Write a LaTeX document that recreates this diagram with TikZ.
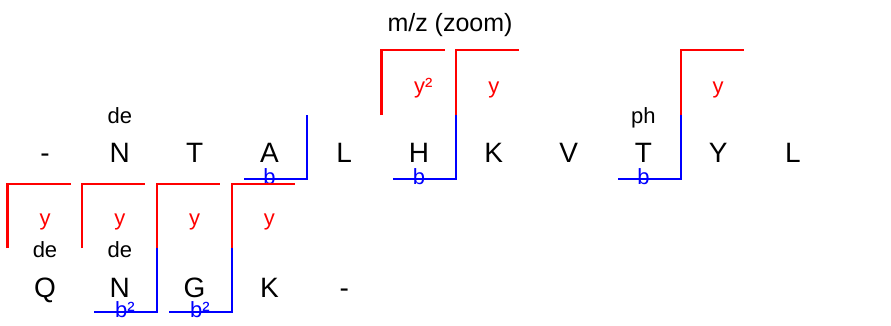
\documentclass[tikz,border=0pt]{standalone}
\usepackage{fontspec}
\setmainfont{Liberation Sans}
\usetikzlibrary{positioning}

\begin{document}
\begin{tikzpicture}[x=1pt, y=-1pt, line width=2.2pt,
  res/.style={font=\fontsize{28}{28}\selectfont, anchor=base, inner sep=0pt},
  tag/.style={font=\fontsize{22}{22}\selectfont, anchor=base, inner sep=0pt},
  yion/.style={red},
  bion/.style={blue}]
  % one unit = one pixel, y runs downwards
  \useasboundingbox (0,0) rectangle (891,325);
  \def\dx{74.8}   % residue pitch
  \def\rowa{162}  % baseline of first row
  \def\rowb{297}  % baseline of second row

  % Title
  \node[font=\fontsize{25}{25}\selectfont, anchor=base] (title) at (450, 31) {m/z (zoom)};

  % Residues
  \foreach \r [count=\i from 0] in {-,N,T,A,L,H,K,V,T,Y,L}
    \node[res] (a\i) at (45+\i*\dx, \rowa) {\r};
  \foreach \r [count=\i from 0] in {Q,N,G,K,-}
    \node[res] (b\i) at (45+\i*\dx, \rowb) {\r};

  % Modifications
  \node[tag] (moda) at (45+\dx, 123) {de};
  \node[tag] (modb) at (45+8*\dx, 123) {ph};
  \node[tag] (modc) at (45, 257) {de};
  \node[tag] (modd) at (45+\dx, 257) {de};

  % y ions, first row
  \draw[yion] (381.5,115) |- ++(63,-65);
  \draw[yion] (456.3,115) |- ++(63,-65);
  \draw[yion] (680.7,115) |- ++(63,-65);
  \node[tag, red, anchor=base west] (ya) at (413, 93) {y²};
  \node[tag, red] (yb) at (45+6*\dx, 93) {y};
  \node[tag, red] (yc) at (45+9*\dx, 93) {y};

  % b ions, first row
  \draw[bion] (306.7,115) |- ++(-63,64);
  \draw[bion] (456.3,115) |- ++(-63,64);
  \draw[bion] (680.7,115) |- ++(-63,64);
  \node[tag, blue] (ba) at (45+3*\dx, 184) {b};
  \node[tag, blue] (bb) at (45+5*\dx, 184) {b};
  \node[tag, blue] (bc) at (45+8*\dx, 184) {b};

  % y ions, second row
  \foreach \k in {0,...,3} {
    \draw[yion] (7.5+\k*\dx,248) |- ++(63,-64);
    \node[tag, red] (y2\k) at (45+\k*\dx, 225) {y};
  }

  % b ions, second row
  \draw[bion] (157.1,248) |- ++(-63,64);
  \draw[bion] (231.9,248) |- ++(-63,64);
  \node[tag, blue, anchor=base west] (bd) at (114, 317) {b²};
  \node[tag, blue, anchor=base west] (be) at (189, 317) {b²};
\end{tikzpicture}
\end{document}
